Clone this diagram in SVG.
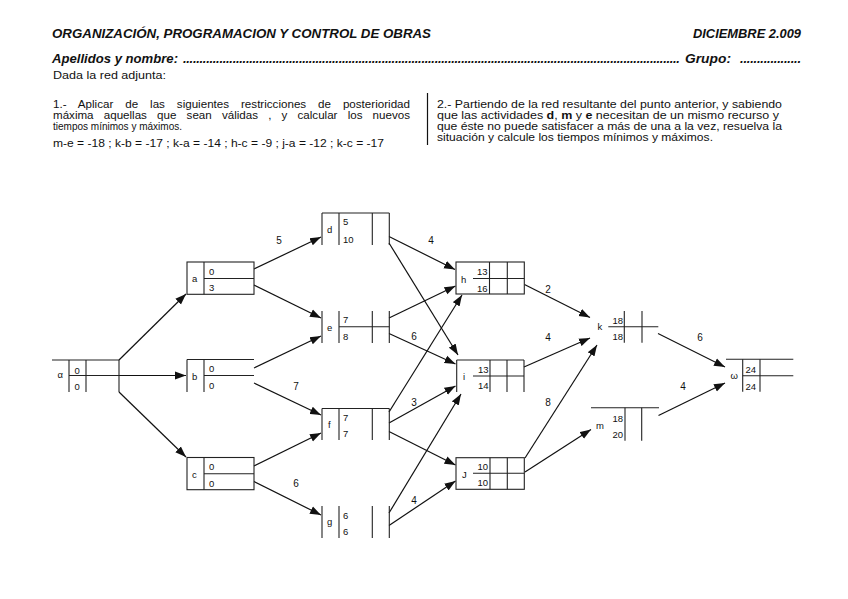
<svg xmlns="http://www.w3.org/2000/svg" width="848" height="599" viewBox="0 0 848 599">
<style>
text{font-family:"Liberation Sans",Arial,sans-serif;fill:#111}
.h{font-size:13px;font-weight:bold;font-style:italic}
.p{font-size:10px}
.n{font-size:9.5px}
.lb{font-size:10px;text-anchor:middle}
.r{text-anchor:end}
.nd line,.nd rect{stroke:#222;stroke-width:1.1;fill:none}
.cn line{stroke:#111;stroke-width:1.2}
</style>
<defs>
<marker id="ar" markerUnits="userSpaceOnUse" markerWidth="12" markerHeight="9" refX="11" refY="4.5" orient="auto">
<path d="M0,0.5 L11,4.5 L0,8.5 z" fill="#111"/>
</marker>
</defs>
<rect width="848" height="599" fill="#fff"/>

<g id="header">
<text class="h" x="52" y="37.5" textLength="379" lengthAdjust="spacingAndGlyphs">ORGANIZACIÓN, PROGRAMACION Y CONTROL DE OBRAS</text>
<text class="h" x="693" y="37.5" textLength="108" lengthAdjust="spacingAndGlyphs">DICIEMBRE 2.009</text>
<text class="h" x="52" y="62.5" textLength="126" lengthAdjust="spacingAndGlyphs">Apellidos y nombre:</text>
<text class="h" x="183" y="62.5" textLength="497" lengthAdjust="spacing">......................................................................................................................................................</text>
<text class="h" x="685" y="62.5" textLength="46" lengthAdjust="spacingAndGlyphs">Grupo:</text>
<text class="h" x="740" y="62.5" textLength="61" lengthAdjust="spacing">..................</text>
<text class="p" x="53" y="79" textLength="113" lengthAdjust="spacingAndGlyphs">Dada  la red adjunta:</text>
<text class="p" x="53" y="108.3" textLength="357" lengthAdjust="spacingAndGlyphs" word-spacing="7.5">1.- Aplicar de las siguientes restricciones de posterioridad</text>
<text class="p" x="53" y="119.3" textLength="357" lengthAdjust="spacingAndGlyphs" word-spacing="6">máxima aquellas que sean válidas , y calcular los nuevos</text>
<text class="p" x="53" y="130.2" textLength="129" lengthAdjust="spacingAndGlyphs">tiempos mínimos y máximos.</text>
<text class="p" x="53" y="146.7" textLength="331" lengthAdjust="spacingAndGlyphs">m-e = -18 ; k-b = -17 ; k-a = -14 ; h-c = -9 ; j-a = -12 ; k-c = -17</text>
<line x1="427.5" y1="93" x2="427.5" y2="145" stroke="#111" stroke-width="1.2"/>
<text class="p" x="437" y="108.3" textLength="345" lengthAdjust="spacingAndGlyphs">2.- Partiendo de la red resultante del punto  anterior, y sabiendo</text>
<text class="p" x="437" y="119.3" textLength="342" lengthAdjust="spacingAndGlyphs">que las actividades <tspan font-weight="bold">d</tspan>, <tspan font-weight="bold">m</tspan> y <tspan font-weight="bold">e</tspan>  necesitan de un mismo recurso y</text>
<text class="p" x="437" y="130.2" textLength="345" lengthAdjust="spacingAndGlyphs">que éste no puede satisfacer a más de una a la vez, resuelva la</text>
<text class="p" x="437" y="141" textLength="276" lengthAdjust="spacingAndGlyphs">situación y calcule los tiempos mínimos y máximos.</text>
</g>

<g class="cn" id="connectors">
<line x1="119" y1="360" x2="186" y2="294" marker-end="url(#ar)"/>
<line x1="119" y1="375.5" x2="186" y2="375.5" marker-end="url(#ar)"/>
<line x1="119" y1="392" x2="186" y2="457" marker-end="url(#ar)"/>
<line x1="254" y1="269" x2="321" y2="237" marker-end="url(#ar)"/>
<line x1="254" y1="285" x2="321" y2="318" marker-end="url(#ar)"/>
<line x1="254" y1="368" x2="321" y2="336" marker-end="url(#ar)"/>
<line x1="254" y1="383" x2="321" y2="415" marker-end="url(#ar)"/>
<line x1="254" y1="466" x2="321" y2="433" marker-end="url(#ar)"/>
<line x1="254" y1="481.5" x2="321" y2="515" marker-end="url(#ar)"/>
<line x1="389" y1="236.5" x2="455" y2="269.5" marker-end="url(#ar)"/>
<line x1="389" y1="243" x2="458" y2="355" marker-end="url(#ar)"/>
<line x1="389" y1="318" x2="455.5" y2="286" marker-end="url(#ar)"/>
<line x1="389" y1="333.5" x2="455.5" y2="364" marker-end="url(#ar)"/>
<line x1="389" y1="412" x2="462" y2="295" marker-end="url(#ar)"/>
<line x1="389" y1="423" x2="455.5" y2="386" marker-end="url(#ar)"/>
<line x1="389" y1="431.5" x2="455.5" y2="465" marker-end="url(#ar)"/>
<line x1="389" y1="513" x2="461" y2="394" marker-end="url(#ar)"/>
<line x1="389" y1="525.5" x2="455.5" y2="481" marker-end="url(#ar)"/>
<line x1="524.5" y1="284.5" x2="590" y2="317.5" marker-end="url(#ar)"/>
<line x1="524" y1="367" x2="590" y2="338" marker-end="url(#ar)"/>
<line x1="525" y1="458" x2="597" y2="345" marker-end="url(#ar)"/>
<line x1="525" y1="472" x2="591" y2="429.5" marker-end="url(#ar)"/>
<line x1="658" y1="333.5" x2="725" y2="367" marker-end="url(#ar)"/>
<line x1="658.5" y1="415.5" x2="725" y2="383" marker-end="url(#ar)"/>
<text class="lb" x="279" y="243.5">5</text>
<text class="lb" x="296" y="389.5">7</text>
<text class="lb" x="296" y="486.5">6</text>
<text class="lb" x="431" y="244">4</text>
<text class="lb" x="414" y="339.5">6</text>
<text class="lb" x="414" y="406">3</text>
<text class="lb" x="414" y="503.5">4</text>
<text class="lb" x="548" y="292.5">2</text>
<text class="lb" x="548" y="340.5">4</text>
<text class="lb" x="548" y="406">8</text>
<text class="lb" x="700" y="340.5">6</text>
<text class="lb" x="683" y="390">4</text>
</g>

<g class="nd" id="node-alpha">
<line x1="52" y1="360" x2="119" y2="360"/>
<line x1="69" y1="375.5" x2="119" y2="375.5"/>
<line x1="69" y1="360" x2="69" y2="392"/>
<line x1="86" y1="360" x2="86" y2="392"/>
<line x1="119" y1="360" x2="119" y2="392"/>
<text class="n" x="57.5" y="378" font-size="8">α</text>
<text class="n" x="74.5" y="373.5">0</text>
<text class="n" x="74.5" y="389.5">0</text>
</g>

<g class="nd" id="node-a">
<rect x="187" y="262" width="67" height="32.3"/>
<line x1="204" y1="262" x2="204" y2="294.3"/>
<line x1="204" y1="278.5" x2="254" y2="278.5"/>
<text class="n" x="192" y="282">a</text>
<text class="n" x="209" y="274.5">0</text>
<text class="n" x="209" y="291">3</text>
</g>

<g class="nd" id="node-b">
<line x1="187" y1="359.5" x2="254" y2="359.5"/>
<line x1="204" y1="375.5" x2="254" y2="375.5"/>
<line x1="187" y1="359.5" x2="187" y2="392"/>
<line x1="204" y1="359.5" x2="204" y2="392"/>
<text class="n" x="192" y="379.5">b</text>
<text class="n" x="209" y="372">0</text>
<text class="n" x="209" y="388.5">0</text>
</g>

<g class="nd" id="node-c">
<rect x="187" y="457.5" width="67" height="32.2"/>
<line x1="204" y1="457.5" x2="204" y2="489.7"/>
<line x1="204" y1="473.7" x2="254" y2="473.7"/>
<text class="n" x="192" y="477.5">c</text>
<text class="n" x="209" y="470">0</text>
<text class="n" x="209" y="486.5">0</text>
</g>

<g class="nd" id="node-d">
<line x1="322" y1="213" x2="389.3" y2="213"/>
<line x1="322" y1="213" x2="322" y2="245"/>
<line x1="339" y1="213" x2="339" y2="245"/>
<line x1="372.3" y1="213" x2="372.3" y2="245"/>
<line x1="389.3" y1="213" x2="389.3" y2="245"/>
<text class="n" x="327" y="233">d</text>
<text class="n" x="343" y="225">5</text>
<text class="n" x="343" y="242.5">10</text>
</g>

<g class="nd" id="node-e">
<line x1="322" y1="311" x2="322" y2="343"/>
<line x1="339" y1="311" x2="339" y2="343"/>
<line x1="372.3" y1="311" x2="372.3" y2="343"/>
<line x1="389.3" y1="311" x2="389.3" y2="343"/>
<line x1="339" y1="326.7" x2="389.3" y2="326.7"/>
<text class="n" x="327" y="331">e</text>
<text class="n" x="343" y="323">7</text>
<text class="n" x="343" y="340">8</text>
</g>

<g class="nd" id="node-f">
<line x1="322" y1="408.5" x2="389.3" y2="408.5"/>
<line x1="322" y1="408.5" x2="322" y2="440"/>
<line x1="339" y1="408.5" x2="339" y2="440"/>
<line x1="372.3" y1="408.5" x2="372.3" y2="440"/>
<line x1="389.3" y1="408.5" x2="389.3" y2="440"/>
<text class="n" x="328" y="428">f</text>
<text class="n" x="343" y="421">7</text>
<text class="n" x="343" y="437">7</text>
</g>

<g class="nd" id="node-g">
<line x1="322" y1="506" x2="322" y2="538"/>
<line x1="339" y1="506" x2="339" y2="538"/>
<line x1="372.3" y1="506" x2="372.3" y2="538"/>
<line x1="389.3" y1="506" x2="389.3" y2="538"/>
<text class="n" x="327" y="525">g</text>
<text class="n" x="343" y="519">6</text>
<text class="n" x="343" y="535">6</text>
</g>

<g class="nd" id="node-h">
<rect x="456" y="262" width="68.3" height="32"/>
<line x1="489.5" y1="262" x2="489.5" y2="294"/>
<line x1="507.3" y1="262" x2="507.3" y2="294"/>
<line x1="473" y1="278.5" x2="524.3" y2="278.5"/>
<text class="n" x="461" y="283">h</text>
<text class="n r" x="487.5" y="275">13</text>
<text class="n r" x="487.5" y="291.5">16</text>
</g>

<g class="nd" id="node-i">
<line x1="456.7" y1="360" x2="524" y2="360"/>
<line x1="456.7" y1="360" x2="456.7" y2="392"/>
<line x1="490" y1="360" x2="490" y2="392"/>
<line x1="507" y1="360" x2="507" y2="392"/>
<line x1="524" y1="360" x2="524" y2="392"/>
<line x1="473" y1="376" x2="524" y2="376"/>
<text class="n" x="463" y="380">i</text>
<text class="n r" x="488.5" y="372.5">13</text>
<text class="n r" x="488.5" y="389">14</text>
</g>

<g class="nd" id="node-j">
<rect x="456" y="457.7" width="68.3" height="31.6"/>
<line x1="490" y1="457.7" x2="490" y2="489.3"/>
<line x1="507.3" y1="457.7" x2="507.3" y2="489.3"/>
<line x1="473" y1="473.3" x2="524.3" y2="473.3"/>
<text class="n" x="462" y="477.5">J</text>
<text class="n r" x="488" y="470">10</text>
<text class="n r" x="488" y="486">10</text>
</g>

<g class="nd" id="node-k">
<line x1="624.3" y1="311" x2="624.3" y2="342.7"/>
<line x1="642" y1="311" x2="642" y2="342.7"/>
<line x1="608.3" y1="326.7" x2="658.3" y2="326.7"/>
<text class="n" x="597.5" y="330" font-size="7.5">k</text>
<text class="n r" x="623" y="324">18</text>
<text class="n r" x="623" y="340">18</text>
</g>

<g class="nd" id="node-m">
<line x1="591" y1="407.7" x2="659" y2="407.7"/>
<line x1="625" y1="407.7" x2="625" y2="440.7"/>
<line x1="641.7" y1="407.7" x2="641.7" y2="440.7"/>
<text class="n" x="596" y="428.5">m</text>
<text class="n r" x="623" y="421.5">18</text>
<text class="n r" x="623" y="438">20</text>
</g>

<g class="nd" id="node-omega">
<line x1="726" y1="359.3" x2="793.3" y2="359.3"/>
<line x1="742.7" y1="375.7" x2="793.3" y2="375.7"/>
<line x1="742.7" y1="359.3" x2="742.7" y2="391.7"/>
<line x1="760" y1="359.3" x2="760" y2="391.7"/>
<text class="n" x="730.5" y="379" font-size="8">ω</text>
<text class="n" x="745.5" y="373">24</text>
<text class="n" x="745.5" y="389.5">24</text>
</g>
</svg>
